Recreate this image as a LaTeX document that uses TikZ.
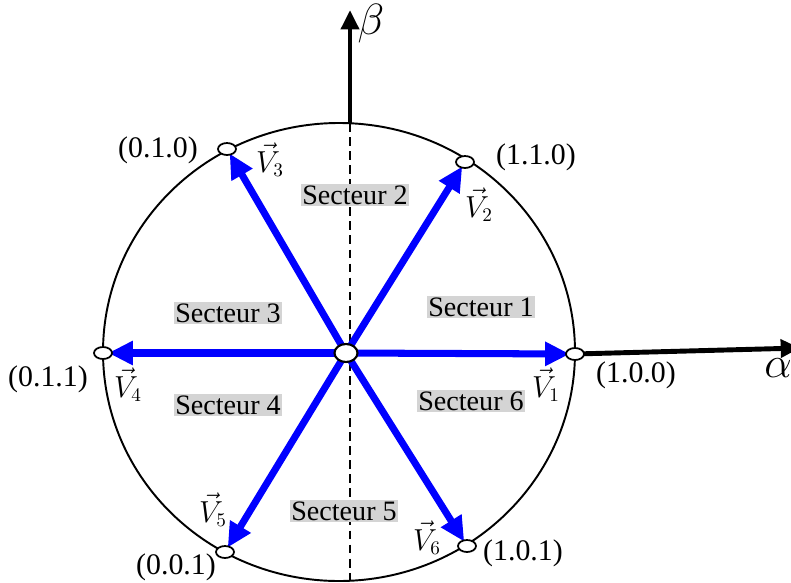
\documentclass[tikz,border=0pt]{standalone}
\usepackage{fontspec}
\setmainfont{Liberation Serif}
\usetikzlibrary{arrows.meta}

\tikzset{
	vect/.style={blue, line width=4pt, shorten >=3pt, -{Triangle[length=14pt,width=13pt]}},
	axe/.style={line width=2.8pt, -{Triangle[length=11pt,width=10pt]}},
	secteur/.style={fill=black!17, inner sep=1pt, font=\fontsize{16}{18}\selectfont},
	etat/.style={font=\fontsize{17}{19}\selectfont},
	etiq/.style={font=\fontsize{16}{18}\selectfont},
}

\begin{document}
\begin{tikzpicture}[x=0.02cm,y=-0.02cm]

				\useasboundingbox (0,0) rectangle (791,582);

				% Points


				\coordinate (O) at (346,353);
				\coordinate (1) at (575,354);
				\coordinate (2) at (465,162);
				\coordinate (3) at (227,149);
				\coordinate (4) at (103,353);
				\coordinate (5) at (225,552);
				\coordinate (6) at (467,546);
				\coordinate (haut) at (350,123);
				\coordinate (bas) at (350,580);
				\coordinate (b) at (350,10);
				\coordinate (a) at (800,348);


				\draw[line width=1.1pt] (339,352) ellipse (236 and 229);
				\draw[line width=1pt, dash pattern=on 5pt off 3pt] (haut) -- (bas);

				\draw[axe] (haut) -- (b);
				\draw[axe] (1) -- (a);

				\foreach \i in {1,...,6}
				\draw[vect] (O) -- (\i);

				\foreach \i in {1,...,6}
				\draw[fill = white, line width=1pt] (\i) ellipse (9 and 6);

				\draw[fill = white, line width=1.2pt] (O) ellipse (11.5 and 9);

				% Etats
				\node[etat] (e1) at (636,375) {(1.0.0)};
				\node[etat] (e2) at (536,157) {(1.1.0)};
				\node[etat] (e3) at (158,150) {(0.1.0)};
				\node[etat] (e4) at (48,379) {(0.1.1)};
				\node[etat] (e5) at (176,567) {(0.0.1)};
				\node[etat] (e6) at (523,553) {(1.0.1)};

				% Vecteurs
				\node[etiq] (v1) at (546,385) {$\vec{V}_{1}$};
				\node[etiq] (v2) at (479,205) {$\vec{V}_{2}$};
				\node[etiq] (v3) at (270,160) {$\vec{V}_{3}$};
				\node[etiq] (v4) at (128,385) {$\vec{V}_{4}$};
				\node[etiq] (v5) at (213,510) {$\vec{V}_{5}$};
				\node[etiq] (v6) at (427,538) {$\vec{V}_{6}$};

				\node[font=\fontsize{24}{26}\selectfont] (lb) at (371,24) {$\beta$};
				\node[font=\fontsize{24}{26}\selectfont] (la) at (778,368) {$\alpha$};

				% Secteurs
				\node[secteur] (s1) at (481,307) {Secteur 1};
				\node[secteur] (s2) at (355,195) {Secteur 2};
				\node[secteur] (s3) at (228,313) {Secteur 3};
				\node[secteur] (s4) at (228,405) {Secteur 4};
				\node[secteur] (s5) at (344,511) {Secteur 5};
				\node[secteur] (s6) at (471,401) {Secteur 6};


\end{tikzpicture}
\end{document}
